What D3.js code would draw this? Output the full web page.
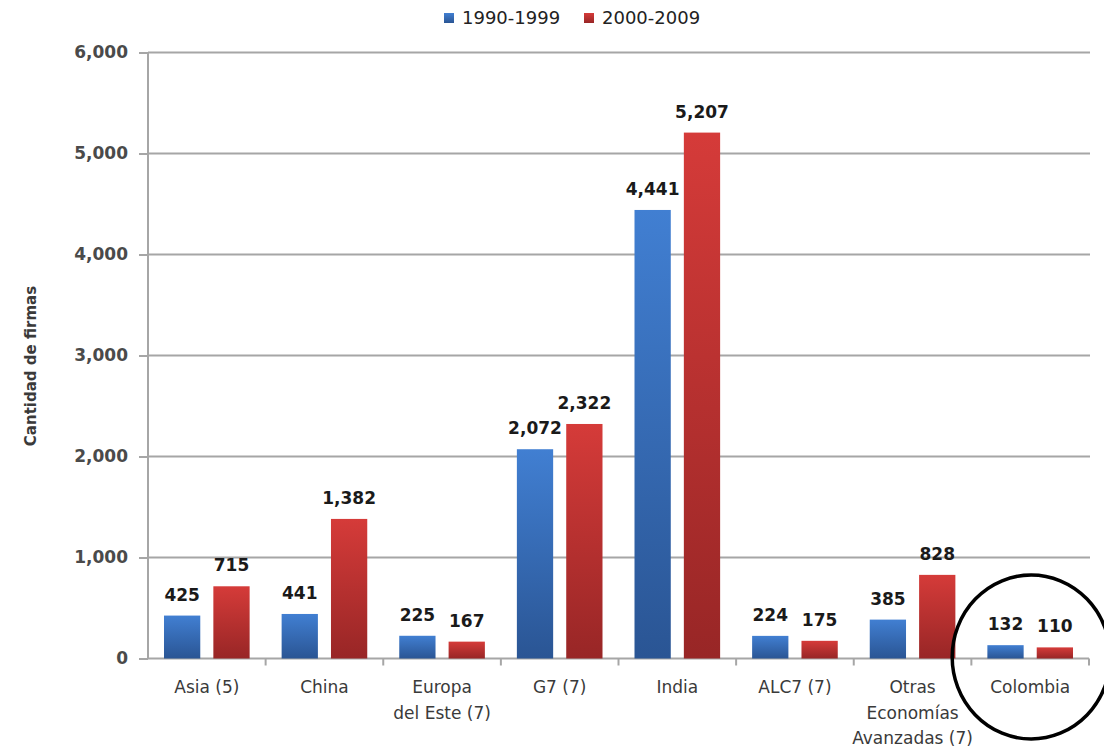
<!DOCTYPE html>
<html>
<head>
<meta charset="utf-8">
<script src="https://cdn.jsdelivr.net/npm/d3@7"></script>
<style>
  body { margin: 0; background: #fff; }
  svg { display: block; font-family: "DejaVu Sans", sans-serif; }
</style>
</head>
<body>
<svg id="chart" width="1104" height="749"></svg>
<script>
    var categories = [["Asia (5)"], ["China"], ["Europa", "del Este (7)"], ["G7 (7)"], ["India"],
        ["ALC7 (7)"], ["Otras", "Economías", "Avanzadas (7)"], ["Colombia"]];
    var series = ["1990-1999", "2000-2009"];
    var values1990 = [425, 441, 225, 2072, 4441, 224, 385, 132];
    var values2000 = [715, 1382, 167, 2322, 5207, 175, 828, 110];
    var yTicks = [0, 1000, 2000, 3000, 4000, 5000, 6000];

    var svg = d3.select("#chart");
    var plotLeft = 148, plotRight = 1089, plotTop = 52.5, plotBottom = 658.5;

    var data = categories.map(function(c, i) {
        return { lines: c, key: c.join(" "), vals: [values1990[i], values2000[i]] };
    });

    var x0 = d3.scaleBand()
        .domain(data.map(function(d) { return d.key; }))
        .range([plotLeft, plotRight]);
    var x1 = d3.scaleBand()
        .domain(series)
        .range([16, x0.bandwidth() - 16])
        .paddingInner(0.265);
    var y = d3.scaleLinear().domain([0, 6000]).range([plotBottom, plotTop]);

    // gradients
    var defs = svg.append("defs");
    var grads = [["gBlue", "#417fd2", "#2a5594"], ["gRed", "#d53b39", "#982626"]];
    grads.forEach(function(g) {
        var lg = defs.append("linearGradient").attr("id", g[0])
            .attr("x1", 0).attr("y1", 0).attr("x2", 0).attr("y2", 1);
        lg.append("stop").attr("offset", "0%").attr("stop-color", g[1]);
        lg.append("stop").attr("offset", "100%").attr("stop-color", g[2]);
    });
    var fills = ["url(#gBlue)", "url(#gRed)"];

    // gridlines
    svg.append("g").selectAll("line")
        .data(yTicks.filter(function(t) { return t > 0; }))
        .enter().append("line")
        .attr("x1", plotLeft).attr("x2", 1090)
        .attr("y1", function(d) { return y(d); })
        .attr("y2", function(d) { return y(d); })
        .attr("stroke", "#a6a6a6")
        .attr("stroke-width", 2);

    // y axis
    var yAxis = svg.append("g")
        .attr("transform", "translate(" + plotLeft + ",0)")
        .call(d3.axisLeft(y).tickValues(yTicks).tickSize(9).tickPadding(11)
            .tickFormat(d3.format(",")));
    yAxis.select(".domain").attr("stroke", "#a6a6a6").attr("stroke-width", 2)
        .attr("d", "M0," + plotBottom + "V" + plotTop);
    yAxis.selectAll(".tick line").attr("stroke", "#a6a6a6").attr("stroke-width", 2);
    yAxis.selectAll(".tick text")
        .attr("fill", "#4a4a4a").attr("font-size", 17).attr("font-weight", "bold")
        .attr("font-family", "DejaVu Sans, sans-serif");

    // x axis
    var xAxis = svg.append("g")
        .attr("transform", "translate(0," + plotBottom + ")")
        .call(d3.axisBottom(x0).tickSize(0).tickFormat(""));
    xAxis.select(".domain").attr("stroke", "#a6a6a6").attr("stroke-width", 2)
        .attr("d", "M" + plotLeft + ",0H" + plotRight);
    xAxis.selectAll(".sep")
        .data(x0.domain())
        .enter().append("line")
        .attr("class", "sep")
        .attr("x1", function(d) { return x0(d) + x0.bandwidth(); })
        .attr("x2", function(d) { return x0(d) + x0.bandwidth(); })
        .attr("y1", 0).attr("y2", 7)
        .attr("stroke", "#a6a6a6").attr("stroke-width", 2);

    // category labels
    var catLabels = svg.append("g").selectAll("text")
        .data(data)
        .enter().append("text")
        .attr("text-anchor", "middle")
        .attr("font-size", 17)
        .attr("fill", "#3a3a3a")
        .attr("x", function(d) { return x0(d.key) + x0.bandwidth() / 2; })
        .attr("y", 693);
    catLabels.each(function(d) {
        var t = d3.select(this);
        d.lines.forEach(function(l, i) {
            t.append("tspan")
                .attr("x", x0(d.key) + x0.bandwidth() / 2)
                .attr("dy", i === 0 ? 0 : 25.5)
                .text(l);
        });
    });

    // bars
    var groups = svg.append("g").selectAll("g")
        .data(data)
        .enter().append("g")
        .attr("transform", function(d) { return "translate(" + x0(d.key) + ",0)"; });

    groups.selectAll("rect")
        .data(function(d) { return d.vals.map(function(v, i) { return { s: series[i], v: v, i: i }; }); })
        .enter().append("rect")
        .attr("x", function(d) { return x1(d.s); })
        .attr("y", function(d) { return y(d.v); })
        .attr("width", x1.bandwidth())
        .attr("height", function(d) { return plotBottom - y(d.v); })
        .attr("fill", function(d) { return fills[d.i]; });

    groups.selectAll("text.val")
        .data(function(d) { return d.vals.map(function(v, i) { return { s: series[i], v: v, i: i }; }); })
        .enter().append("text")
        .attr("class", "val")
        .attr("x", function(d) { return x1(d.s) + x1.bandwidth() / 2; })
        .attr("y", function(d) { return y(d.v) - 15; })
        .attr("text-anchor", "middle")
        .attr("font-size", 17)
        .attr("font-weight", "bold")
        .attr("fill", "#1a1a1a")
        .text(function(d) { return d3.format(",")(d.v); });

    // y axis title
    svg.append("text")
        .attr("transform", "translate(36,366) rotate(-90)")
        .attr("text-anchor", "middle")
        .attr("font-size", 15)
        .attr("font-weight", "bold")
        .attr("fill", "#3a3a3a")
        .text("Cantidad de firmas");

    // legend
    var legendX = [444, 584];
    var legend = svg.append("g").selectAll("g")
        .data(series)
        .enter().append("g")
        .attr("transform", function(d, i) { return "translate(" + legendX[i] + ",0)"; });
    legend.append("rect")
        .attr("x", 0).attr("y", 13).attr("width", 10).attr("height", 10)
        .attr("fill", function(d, i) { return fills[i]; });
    legend.append("text")
        .attr("x", 18).attr("y", 24)
        .attr("font-size", 18)
        .attr("fill", "#222")
        .text(function(d) { return d; });

    // circle around Colombia
    var colKey = data[7].key;
    svg.append("ellipse")
        .attr("cx", x0(colKey) + x0.bandwidth() / 2 + 1)
        .attr("cy", 657)
        .attr("rx", 79)
        .attr("ry", 82)
        .attr("fill", "none")
        .attr("stroke", "#000")
        .attr("stroke-width", 3.5);
</script>
</body>
</html>
